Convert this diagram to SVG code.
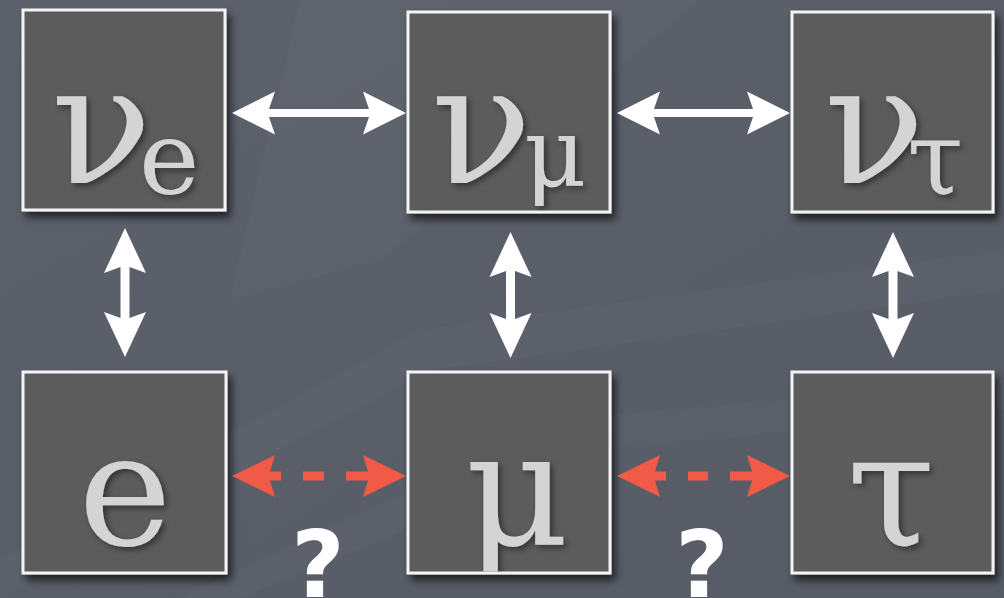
<svg xmlns="http://www.w3.org/2000/svg" width="1004" height="598" viewBox="0 0 1004 598">
  <defs>
    <linearGradient id="bg" x1="0" y1="0" x2="1" y2="1">
      <stop offset="0" stop-color="#5c616c"/>
      <stop offset="0.5" stop-color="#595e69"/>
      <stop offset="1" stop-color="#565b66"/>
    </linearGradient>
    <filter id="boxShadow" x="-10%" y="-10%" width="130%" height="130%">
      <feDropShadow dx="4" dy="6" stdDeviation="4" flood-color="#000" flood-opacity="0.65"/>
    </filter>
    <filter id="textShadow" x="-20%" y="-20%" width="150%" height="150%">
      <feDropShadow dx="3" dy="3" stdDeviation="3" flood-color="#000" flood-opacity="0.45"/>
    </filter>
    <clipPath id="clipMu"><rect x="409.5" y="373.5" width="199" height="198"/></clipPath>
    <clipPath id="clipMuSub"><rect x="409.5" y="13.5" width="199" height="197"/></clipPath>
  </defs>
  <style>
    .box { fill: #5c5c5c; stroke: #f4f4f4; stroke-width: 3; filter: url(#boxShadow); }
    .glyph { font-family: 'DejaVu Serif', serif; fill: #d4d4d4; filter: url(#textShadow); }
    .big { font-size: 166px; }
    .sub { font-size: 102px; }
    .white { fill: #ffffff; }
    .red { fill: #f05a47; }
    .q { font-family: 'DejaVu Sans', sans-serif; font-weight: bold; font-size: 92px; fill: #ffffff; text-anchor: middle; }
  </style>

  <rect x="0" y="0" width="1004" height="598" fill="url(#bg)"/>
  <g fill="#ffffff" opacity="0.018">
    <polygon points="0,560 420,330 1004,250 1004,290 430,370 0,598"/>
    <polygon points="180,598 560,420 1004,380 1004,410 600,450 240,598"/>
    <polygon points="300,0 700,0 380,260 230,300"/>
  </g>

  <g id="node-nu-e">
    <rect class="box" x="23" y="10" width="202" height="200"/>
    <text class="glyph big" x="51" y="183">ν<tspan class="sub" x="139" y="194">e</tspan></text>
  </g>
  <g id="node-nu-mu">
    <rect class="box" x="408" y="12" width="202" height="200"/>
    <g clip-path="url(#clipMuSub)">
      <text class="glyph big" x="431" y="183">ν<tspan font-size="96" x="524" y="186">μ</tspan></text>
    </g>
  </g>
  <g id="node-nu-tau">
    <rect class="box" x="792" y="12" width="201" height="200"/>
    <text class="glyph big" x="824" y="183">ν<tspan class="sub" x="907" y="194">τ</tspan></text>
  </g>
  <g id="node-e">
    <rect class="box" x="23" y="372" width="203" height="201"/>
    <text class="glyph" font-size="158" x="125" y="545" text-anchor="middle">e</text>
  </g>
  <g id="node-mu">
    <rect class="box" x="408" y="372" width="202" height="201"/>
    <g clip-path="url(#clipMu)">
      <text class="glyph" font-size="160" x="517" y="545" text-anchor="middle">μ</text>
    </g>
  </g>
  <g id="node-tau">
    <rect class="box" x="792" y="372" width="201" height="201"/>
    <text class="glyph" font-size="160" x="891" y="545" text-anchor="middle">τ</text>
  </g>

  <g id="connectors">
    <path class="white" d="M232,113 L275,91.5 L269,109 L369,109 L363,91.5 L406,113 L363,134.5 L369,117 L269,117 L275,134.5 Z"/>
    <path class="white" d="M617,113 L660,91.5 L654,109 L753,109 L747,91.5 L790,113 L747,134.5 L753,117 L654,117 L660,134.5 Z"/>
    <path class="white" d="M125,228 L146,273 L129.5,267 L129.5,318 L146,312 L125,357 L104,312 L120.5,318 L120.5,267 L104,273 Z"/>
    <path class="white" d="M510.5,232 L531.5,277 L515,271 L515,319 L531.5,313 L510.5,358 L489.5,313 L506,319 L506,271 L489.5,277 Z"/>
    <path class="white" d="M893,232 L914,277 L897.5,271 L897.5,319 L914,313 L893,358 L872,313 L888.5,319 L888.5,271 L872,277 Z"/>
    <path class="red" d="M232,476 L275,455 L270,471.5 L281,471.5 L281,480.5 L270,480.5 L275,497 Z"/>
    <rect class="red" x="303" y="471.5" width="21" height="9"/>
    <path class="red" d="M406,476 L363,455 L368,471.5 L346,471.5 L346,480.5 L368,480.5 L363,497 Z"/>
    <path class="red" d="M617,476 L660,455 L655,471.5 L666,471.5 L666,480.5 L655,480.5 L660,497 Z"/>
    <rect class="red" x="688" y="471.5" width="20" height="9"/>
    <path class="red" d="M790,476 L747,455 L752,471.5 L730,471.5 L730,480.5 L752,480.5 L747,497 Z"/>
  </g>

  <text class="q" x="318" y="597">?</text>
  <text class="q" x="702" y="597">?</text>
</svg>
